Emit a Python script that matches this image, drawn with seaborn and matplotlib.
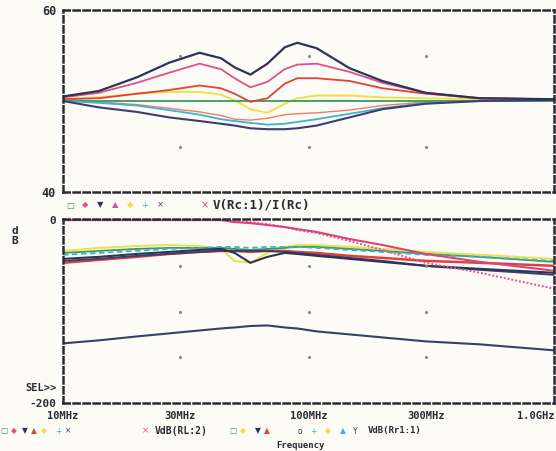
import numpy as np
import pandas as pd
import seaborn as sns
import matplotlib.pyplot as plt
from matplotlib.ticker import NullLocator

# Frequency points (MHz) the traces were read at
freq_mhz = [10, 14, 20, 27, 36, 44, 50, 58, 68, 80, 90, 108, 147, 200, 300, 500, 1000]

# Upper plot: V(Rc:1)/I(Rc)
rc_navy = [50.5, 51.1, 52.6, 54.2, 55.3, 54.7, 53.7, 52.9, 54.1, 55.9, 56.4, 55.8, 53.6, 52.2, 50.9, 50.3, 50.2]
rc_pink = [50.4, 50.9, 52.0, 53.1, 54.1, 53.5, 52.5, 51.5, 52.1, 53.5, 54.0, 54.1, 53.2, 52.0, 50.9, 50.3, 50.2]
rc_red = [50.2, 50.3, 50.8, 51.2, 51.7, 51.4, 50.8, 49.9, 50.3, 51.9, 52.5, 52.5, 52.2, 51.4, 50.8, 50.3, 50.2]
rc_yellow = [50.2, 50.4, 50.8, 51.0, 51.0, 50.7, 50.1, 49.1, 48.7, 49.7, 50.3, 50.6, 50.6, 50.4, 50.3, 50.2, 50.2]
rc_green = [50.0] * 17
rc_cyan = [50.0, 49.8, 49.5, 49.0, 48.5, 48.0, 47.8, 47.6, 47.4, 47.5, 47.7, 48.0, 48.6, 49.2, 49.8, 50.0, 50.1]
rc_slate = [50.0, 49.3, 48.8, 48.2, 47.8, 47.5, 47.3, 47.0, 46.9, 46.9, 47.0, 47.3, 48.2, 49.1, 49.7, 50.0, 50.1]
rc_salmon = [50.1, 49.9, 49.6, 49.2, 48.8, 48.4, 48.0, 47.9, 48.1, 48.5, 48.6, 48.7, 49.0, 49.5, 49.9, 50.1, 50.2]

# Lower plot: VdB(RL:2) / VdB(Rr1:1)
db_navy = [-42.4, -40.2, -37.0, -34.8, -32.6, -31.5, -35.9, -46.7, -40.2, -35.9, -37.0, -39.1, -42.4, -45.7, -50.0, -53.3, -57.6]
db_pink = [0, 0, 0, 0, 0, 0, -2.2, -3.3, -5.4, -7.6, -9.8, -13.0, -20.7, -27.2, -37.0, -45.7, -55.4]
db_hotpink = [0, 0, 0, 0, 0, 0, -1.1, -2.2, -4.3, -7.6, -10.9, -14.1, -22.8, -32.6, -46.7, -57.6, -75.0]
db_red = [-46.7, -43.5, -40.2, -37.0, -34.8, -33.7, -33.7, -34.8, -33.7, -33.7, -34.8, -35.9, -39.1, -41.3, -44.6, -46.7, -50.0]
db_yellow = [-33.7, -30.4, -28.3, -27.2, -28.3, -31.5, -44.6, -46.7, -35.9, -29.3, -27.2, -27.2, -29.3, -31.5, -34.8, -38.0, -42.4]
db_green = [-35.9, -33.7, -31.5, -30.4, -30.4, -30.4, -31.5, -32.6, -31.5, -30.4, -29.3, -29.3, -31.5, -33.7, -37.0, -40.2, -45.7]
db_cyan = [-38.0, -35.9, -33.7, -31.5, -30.4, -29.3, -29.3, -30.4, -29.3, -29.3, -29.3, -30.4, -32.6, -34.8, -38.0, -40.2, -44.6]
db_slate = [-44.6, -42.4, -39.1, -37.0, -34.8, -33.7, -33.7, -33.7, -33.7, -34.8, -35.9, -38.0, -41.3, -44.6, -50.0, -54.4, -59.8]
db_deep = [-134.8, -131.5, -127.2, -123.9, -120.7, -118.5, -117.4, -115.8, -115.2, -117.4, -118.5, -121.7, -125.0, -128.3, -132.6, -135.9, -142.4]

x_ticks_hz = [10e6, 30e6, 100e6, 300e6, 1e9]
x_tick_labels = ['10MHz', '30MHz', '100MHz', '300MHz', '1.0GHz']

GREEN, PINK, NAVY, RED = '#3a9a5a', '#e2508a', '#2c3555', '#e2403a'
YELLOW, CYAN, SLATE, SALMON = '#f0df4c', '#3bb3d2', '#3d3d72', '#ef7d6c'
BG = '#fcfbf6'
INK = '#2a2a35'

sns.set_style('white', {'axes.facecolor': BG, 'figure.facecolor': BG})
mono = {'family': 'DejaVu Sans Mono', 'weight': 'bold', 'color': INK}

freq_hz = np.array(freq_mhz) * 1e6

fig = plt.figure(figsize=(5.56, 4.51), dpi=100)
W, H = 556, 451
ax1 = fig.add_axes([63 / W, 1 - 192 / H, 491 / W, 182 / H])
ax2 = fig.add_axes([63 / W, 1 - 403 / H, 491 / W, 184 / H])

# upper traces
upper = [(rc_salmon, SALMON, '-', 1.0), (rc_yellow, YELLOW, '-', 1.4), (rc_green, GREEN, '-', 1.3),
         (rc_cyan, CYAN, '-', 1.3), (rc_slate, SLATE, '-', 1.5), (rc_red, RED, '-', 1.3),
         (rc_pink, PINK, '-', 1.3), (rc_navy, NAVY, '-', 1.6)]
for vals, col, ls, lw in upper:
    sns.lineplot(x=freq_hz, y=vals, color=col, linestyle=ls, linewidth=lw, ax=ax1)

# lower traces
lower = [(db_yellow, YELLOW, '-', 1.4), (db_green, GREEN, '-', 1.3), (db_cyan, CYAN, (0, (3, 2)), 1.3),
         (db_red, RED, '-', 1.8), (db_slate, SLATE, '-', 1.4), (db_navy, NAVY, '-', 1.5),
         (db_deep, '#34406a', '-', 1.5), (db_hotpink, '#f0508a', (0, (1, 1)), 1.4),
         (db_pink, '#d8457e', '-', 1.5)]
for vals, col, ls, lw in lower:
    sns.lineplot(x=freq_hz, y=vals, color=col, linestyle=ls, linewidth=lw, ax=ax2)

for ax in (ax1, ax2):
    ax.set_xscale('log')
    ax.set_xlim(10e6, 1e9)
    ax.xaxis.set_minor_locator(NullLocator())
    ax.yaxis.set_minor_locator(NullLocator())
    ax.set_xlabel('')
    ax.set_ylabel('')
    for s in ax.spines.values():
        s.set_linestyle((0, (2.5, 1.5)))
        s.set_linewidth(1.8)
        s.set_color(INK)
    ax.tick_params(axis='y', length=4, width=1.2, pad=1, color=INK)
    ax.tick_params(axis='x', length=3, width=1.0, direction='in', color=INK)

ax1.set_ylim(40, 60)
ax1.set_yticks([40, 60])
ax1.set_yticklabels(['40', '60'], fontdict=dict(mono, size=8.5))
ax1.set_xticks([])

# keep the 0 dB trace just inside the dashed frame so it shows
ax2.set_ylim(-200, 1.2)
ax2.set_yticks([-200, 0])
ax2.set_yticklabels(['-200', '0'], fontdict=dict(mono, size=8))
ax2.set_xticks(x_ticks_hz)
ax2.set_xticklabels(x_tick_labels, fontdict=dict(mono, size=7.5))
ax2.tick_params(axis='x', pad=6)
ax2.get_xticklabels()[-1].set_ha('right')

# dotted grid points at major divisions
for x in x_ticks_hz[1:-1]:
    for y in [45, 55]:
        ax1.plot(x, y, marker='.', ms=2.5, color='#8a8a8a')
    for y in [-50, -100, -150]:
        ax2.plot(x, y, marker='.', ms=2.5, color='#8a8a8a')


def fx(px):
    return px / W


def fy(py):
    return 1 - py / H


# legend row for upper plot
row1 = [('□', GREEN), ('◆', PINK), ('▼', NAVY), ('▲', PINK), ('◆', YELLOW), ('+', CYAN), ('×', SLATE)]
for i, (sym, col) in enumerate(row1):
    fig.text(fx(70 + 15 * i), fy(205), sym, color=col, size=6, ha='center', va='center')
fig.text(fx(205), fy(205), '×', color=PINK, size=7, ha='center', va='center')
fig.text(fx(213), fy(205), 'V(Rc:1)/I(Rc)', ha='left', va='center', **dict(mono, size=9))

# legend row for lower plot
row2a = [('□', GREEN), ('◆', PINK), ('▼', NAVY), ('▲', RED), ('◆', YELLOW), ('+', CYAN), ('×', SLATE)]
for px, (sym, col) in zip([4, 14, 25, 34, 44, 58, 68], row2a):
    fig.text(fx(px), fy(431), sym, color=col, size=5.5, ha='center', va='center')
fig.text(fx(145), fy(431), '×', color=PINK, size=6, ha='center', va='center')
fig.text(fx(155), fy(431), 'VdB(RL:2)', ha='left', va='center', **dict(mono, size=7))
row2b = [('□', GREEN), ('◆', YELLOW), ('▼', NAVY), ('▲', RED), ('o', NAVY), ('+', CYAN),
         ('◆', YELLOW), ('▲', CYAN), ('Y', NAVY)]
for px, (sym, col) in zip([233, 243, 258, 267, 300, 313, 328, 343, 355], row2b):
    fig.text(fx(px), fy(431), sym, color=col, size=5.5, ha='center', va='center')
fig.text(fx(368), fy(431), 'VdB(Rr1:1)', ha='left', va='center', **dict(mono, size=6.5))

fig.text(fx(300), fy(445), 'Frequency', ha='center', va='center', **dict(mono, size=6.5))
fig.text(fx(25), fy(388), 'SEL>>', ha='left', va='center', **dict(mono, size=7.5))
fig.text(fx(15), fy(236), 'd\nB', ha='center', va='center', linespacing=1.0, **dict(mono, size=8))

fig.savefig('out.png', dpi=100, facecolor=BG)
